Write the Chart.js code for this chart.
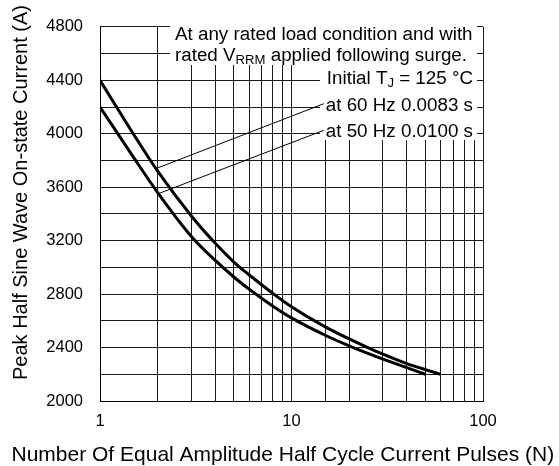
<!DOCTYPE html>
<html>
<head>
<meta charset="utf-8">
<script src="https://cdn.jsdelivr.net/npm/chart.js@4"></script>
<style>
  body { margin: 0; background: #fff; }
  canvas { display: block; }
</style>
</head>
<body>
<canvas id="surge" width="559" height="466"></canvas>
<script>
// number of pulses N and peak current (A) for each line frequency
const pulses60 = [1, 1.5, 2, 3, 4, 5, 6, 8, 10, 15, 20, 30, 40, 50, 60];
const current60 = [4400, 3995, 3720, 3385, 3180, 3040, 2945, 2805, 2705, 2555, 2465, 2350, 2280, 2235, 2200];
const pulses50 = [1, 1.5, 2, 3, 4, 5, 6, 8, 10, 15, 20, 30, 40, 50];
const current50 = [4200, 3822, 3560, 3232, 3052, 2928, 2837, 2710, 2622, 2492, 2413, 2314, 2250, 2200];
const xLabels = [1, 10, 100];
const yLabels = [2000, 2400, 2800, 3200, 3600, 4000, 4400, 4800];

const FAMILY = 'Liberation Sans';
const CSS_FONT = '"Liberation Sans", Arial, sans-serif';

// linear in log(N) between readings, used to land the leader lines on a curve
function currentAt(pulses, current, n) {
    for (let i = 1; i < pulses.length; i++) {
        if (n <= pulses[i]) {
            const t = (Math.log(n) - Math.log(pulses[i - 1])) / (Math.log(pulses[i]) - Math.log(pulses[i - 1]));
            return current[i - 1] + t * (current[i] - current[i - 1]);
        }
    }
    return current[current.length - 1];
}

function setFont(ctx, size) {
    ctx.font = size + 'px ' + CSS_FONT;
}

function piecesWidth(ctx, pieces, size) {
    let w = 0;
    for (let [t, sub] of pieces) {
        setFont(ctx, sub ? size * 0.7 : size);
        w += ctx.measureText(t).width;
    }
    return w;
}

// text made of [string, isSubscript] pieces, on an alphabetic baseline
function drawPieces(ctx, pieces, x, y, size) {
    let cx = x;
    for (let [t, sub] of pieces) {
        setFont(ctx, sub ? size * 0.7 : size);
        ctx.fillText(t, cx, sub ? y + 3.5 : y);
        cx += ctx.measureText(t).width;
    }
}

const noteSize = 18.8;
const notesLeft = [
    { pieces: [['At any rated load condition and with', false]], y: 39.5 },
    { pieces: [['rated V', false], ['RRM', true], [' applied following surge.', false]], y: 60.5 }
];
const notesRight = [
    { pieces: [['Initial T', false], ['J', true], [' = 125 °C', false]], y: 83.5 },
    { pieces: [['at 60 Hz 0.0083 s', false]], y: 110.7, pulses: pulses60, current: current60, n: 1.96 },
    { pieces: [['at 50 Hz 0.0100 s', false]], y: 137.3, pulses: pulses50, current: current50, n: 2.02 }
];

const notesPlugin = {
    id: 'notes',
    beforeDatasetsDraw(chart) {
        const ctx = chart.ctx;
        const xs = chart.scales.x, ys = chart.scales.y;
        const area = chart.chartArea;
        const right = area.right - 10;
        ctx.save();

        // blank out the grid behind the notes
        ctx.fillStyle = '#fff';
        ctx.fillRect(170, 20, area.right - 6 - 170, 45);
        ctx.fillRect(320, 65, area.right - 6 - 320, 75);

        ctx.fillStyle = '#000';
        ctx.strokeStyle = '#000';
        ctx.textBaseline = 'alphabetic';
        ctx.textAlign = 'left';
        for (let note of notesLeft) {
            drawPieces(ctx, note.pieces, 175, note.y, noteSize);
        }
        for (let note of notesRight) {
            const w = piecesWidth(ctx, note.pieces, noteSize);
            drawPieces(ctx, note.pieces, right - w, note.y, noteSize);
            if (note.n) {
                ctx.lineWidth = 1;
                ctx.beginPath();
                ctx.moveTo(right - w - 2, note.y - 7);
                ctx.lineTo(xs.getPixelForValue(note.n), ys.getPixelForValue(currentAt(note.pulses, note.current, note.n)));
                ctx.stroke();
            }
        }
        ctx.restore();
    },
    afterDraw(chart) {
        // axis titles, drawn here so they can run wider than the plot area
        const ctx = chart.ctx;
        ctx.save();
        ctx.fillStyle = '#000';
        ctx.textBaseline = 'alphabetic';
        ctx.textAlign = 'left';
        setFont(ctx, 21);
        ctx.fillText('Number Of Equal Amplitude Half Cycle Current Pulses (N)', 11.5, 461);
        ctx.translate(26.5, 380);
        ctx.rotate(-Math.PI / 2);
        setFont(ctx, 20);
        ctx.fillText('Peak Half Sine Wave On-state Current (A)', 0, 0);
        ctx.restore();
    }
};

new Chart(document.getElementById('surge'), {
    type: 'line',
    data: {
        datasets: [
            {
                label: '60 Hz',
                data: pulses60.map((n, i) => ({ x: n, y: current60[i] })),
                borderColor: '#000',
                borderWidth: 3,
                pointRadius: 0,
                cubicInterpolationMode: 'monotone'
            },
            {
                label: '50 Hz',
                data: pulses50.map((n, i) => ({ x: n, y: current50[i] })),
                borderColor: '#000',
                borderWidth: 3,
                pointRadius: 0,
                cubicInterpolationMode: 'monotone'
            }
        ]
    },
    options: {
        responsive: false,
        animation: false,
        layout: { padding: { top: 16.5, left: 0, right: 76, bottom: 0 } },
        plugins: {
            legend: { display: false },
            tooltip: { enabled: false }
        },
        scales: {
            x: {
                type: 'logarithmic',
                min: 1,
                max: 100,
                afterFit: s => { s.height = 65; },
                grid: { color: '#1a1a1a', lineWidth: 1, drawTicks: false },
                border: { color: '#000', width: 1 },
                ticks: {
                    autoSkip: false,
                    maxRotation: 0,
                    padding: 11,
                    color: '#000',
                    font: { family: FAMILY, size: 16.5 },
                    callback: v => xLabels.includes(v) ? String(v) : ''
                }
            },
            y: {
                min: 2000,
                max: 4800,
                afterFit: s => { s.width = 100; },
                grid: { color: '#1a1a1a', lineWidth: 1, drawTicks: false },
                border: { color: '#000', width: 1 },
                ticks: {
                    stepSize: 200,
                    padding: 17,
                    color: '#000',
                    font: { family: FAMILY, size: 16.5 },
                    callback: v => yLabels.includes(v) ? String(v) : ''
                }
            }
        }
    },
    plugins: [notesPlugin]
});
</script>
</body>
</html>
